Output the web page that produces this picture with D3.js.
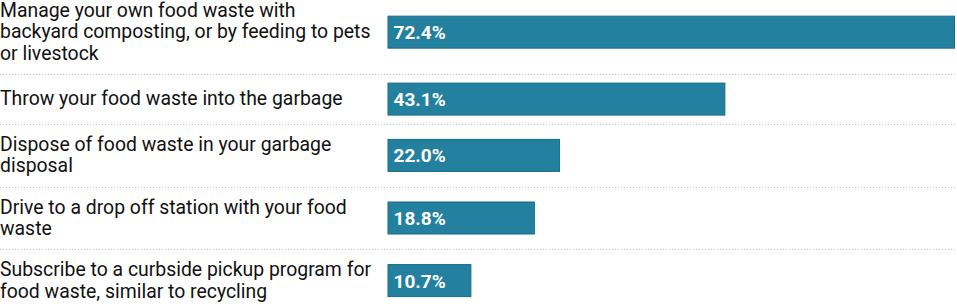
<!DOCTYPE html>
<html>
<head>
<meta charset="utf-8">
<script src="https://cdnjs.cloudflare.com/ajax/libs/d3/7.8.5/d3.min.js"></script>
<style>
    html, body { margin: 0; padding: 0; background: #fff; }
    svg { display: block; }
</style>
</head>
<body>
<div id="chart"></div>
<script>
// answers, with line breaks as in the original layout
const categories = [
    'Manage your own food waste with\nbackyard composting, or by feeding to pets\nor livestock',
    'Throw your food waste into the garbage',
    'Dispose of food waste in your garbage\ndisposal',
    'Drive to a drop off station with your food\nwaste',
    'Subscribe to a curbside pickup program for\nfood waste, similar to recycling'
];
const values = [72.4, 43.1, 22.0, 18.8, 10.7];

const width = 957,
    height = 307,
    barLeft = 387.5,
    barRight = 955,
    barHeight = 32,
    lineHeight = 21.3,
    barPad = 9,
    textPad = 10,
    topOffset = -9.8;

const svg = d3.select('#chart')
    .append('svg')
    .attr('width', width)
    .attr('height', height);

const x = d3.scaleLinear()
    .domain([0, d3.max(values)])
    .range([barLeft, barRight]);

// row layout: each row is as tall as its label block or its bar, plus padding
let rows = [];
let y = topOffset;
categories.forEach(function(c, i) {
    let lines = c.split('\n');
    let half = Math.max(barHeight / 2 + barPad, lines.length * lineHeight / 2 + textPad);
    rows.push({lines: lines, value: values[i], center: y + half, bottom: y + 2 * half});
    y += 2 * half;
});

// dotted separators
svg.selectAll('line.sep')
    .data(rows.slice(0, -1))
    .enter()
    .append('line')
    .attr('class', 'sep')
    .attr('x1', 0)
    .attr('x2', width)
    .attr('y1', d => Math.round(d.bottom) + 0.5)
    .attr('y2', d => Math.round(d.bottom) + 0.5)
    .attr('stroke', '#c8c8c8')
    .attr('stroke-width', 1)
    .attr('stroke-dasharray', '1,2');

let row = svg.selectAll('g.row')
    .data(rows)
    .enter()
    .append('g')
    .attr('class', 'row');

// labels
row.append('text')
    .attr('x', 0)
    .style('font-family', 'Roboto, sans-serif')
    .style('font-size', '19.4px')
    .attr('fill', '#111')
    .each(function(d) {
        let t = d3.select(this);
        let first = d.center - (d.lines.length - 1) * lineHeight / 2 + 6.3;
        d.lines.forEach(function(l, j) {
            t.append('tspan')
                .attr('x', 0)
                .attr('y', first + j * lineHeight)
                .text(l);
        });
    });

// bars
row.append('rect')
    .attr('x', x(0) + 0.5)
    .attr('y', d => d.center - barHeight / 2)
    .attr('width', d => x(d.value) - x(0) - 1)
    .attr('height', barHeight)
    .attr('fill', '#23809f')
    .attr('stroke', '#176b8b')
    .attr('stroke-width', 1);

// value labels
row.append('text')
    .attr('x', x(0) + 6)
    .attr('y', d => d.center + 7)
    .style('font-family', 'Roboto, sans-serif')
    .style('font-size', '19px')
    .style('font-weight', 'bold')
    .attr('fill', '#fff')
    .text(d => d.value.toFixed(1) + '%');
</script>
</body>
</html>
